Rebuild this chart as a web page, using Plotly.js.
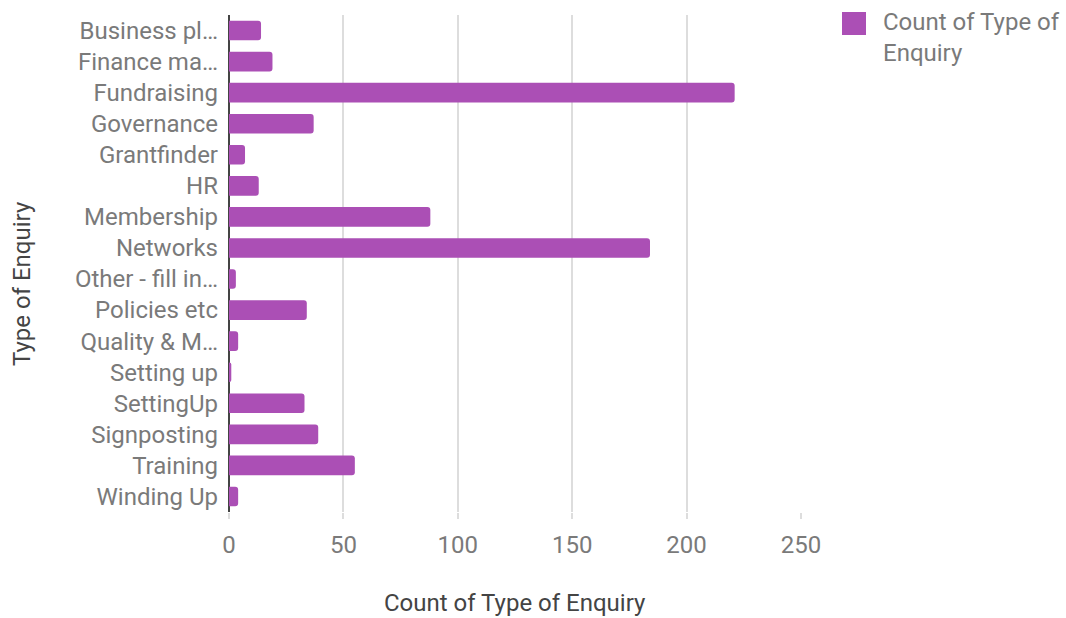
<!DOCTYPE html>
<html>
<head>
<meta charset="utf-8">
<script src="https://cdn.plot.ly/plotly-3.0.1.min.js"></script>
<style>
  html, body { margin: 0; padding: 0; background: #fff; }
  #chart { width: 1066px; height: 618px; }
</style>
</head>
<body>
<div id="chart"></div>
<script>
// Enquiry types, listed top to bottom
const categories = [
  "Business pl…", "Finance ma…", "Fundraising", "Governance", "Grantfinder",
  "HR", "Membership", "Networks", "Other - fill in…", "Policies etc",
  "Quality & M…", "Setting up", "SettingUp", "Signposting", "Training", "Winding Up"
];
// Number of enquiries per type
const counts = [14, 19, 221, 37, 7, 13, 88, 184, 3, 34, 4, 1, 33, 39, 55, 4];
const xTicks = [0, 50, 100, 150, 200, 250];
const seriesNameLines = ["Count of Type of", "Enquiry"];
const xTitle = "Count of Type of Enquiry";
const yTitle = "Type of Enquiry";

const W = 1066, H = 618;
const M = { l: 229, r: 265, t: 15, b: 106 };
const plotW = W - M.l - M.r, plotH = H - M.t - M.b;
// convert page pixels to paper coordinates for titles and the legend key
const px = v => (v - M.l) / plotW;
const py = v => (H - M.b - v) / plotH;

const FAMILY = "Roboto, 'Open Sans', sans-serif";
const labelFont = { family: FAMILY, size: 24, color: "#7a7a7a" };
const titleFont = { family: FAMILY, size: 24, color: "#444444" };
const BAR = "#ab4fb5";

const trace = {
  type: "bar",
  orientation: "h",
  name: seriesNameLines.join(" "),
  x: counts,
  y: categories,
  marker: { color: BAR, cornerradius: 3 },
  hoverinfo: "x+y"
};

const layout = {
  width: W,
  height: H,
  margin: M,
  paper_bgcolor: "#ffffff",
  plot_bgcolor: "#ffffff",
  bargap: 0.37,
  showlegend: false,
  xaxis: {
    range: [0, 250],
    tickvals: xTicks,
    ticktext: xTicks.map(String),
    tickfont: labelFont,
    showgrid: true,
    gridcolor: "#dddddd",
    gridwidth: 2,
    zeroline: true,
    zerolinecolor: "#444444",
    zerolinewidth: 2,
    ticks: "outside",
    ticklen: 6,
    tickwidth: 2,
    tickcolor: "#dddddd",
    ticklabelstandoff: 5,
    showline: false,
    fixedrange: true,
    automargin: false
  },
  yaxis: {
    type: "category",
    autorange: "reversed",
    tickfont: labelFont,
    showgrid: false,
    zeroline: false,
    showline: false,
    ticks: "",
    ticklabelstandoff: 10,
    fixedrange: true,
    automargin: false
  },
  shapes: [
    // legend key swatch
    { type: "rect", xref: "paper", yref: "paper",
      x0: px(842), x1: px(866), y0: py(35), y1: py(12),
      fillcolor: BAR, line: { width: 0 } }
  ],
  annotations: [
    { text: xTitle, xref: "paper", yref: "paper", x: 0.5, y: py(603),
      xanchor: "center", yanchor: "middle", showarrow: false, font: titleFont },
    { text: yTitle, xref: "paper", yref: "paper", x: px(22), y: py(284),
      xanchor: "center", yanchor: "middle", textangle: -90, showarrow: false, font: titleFont },
    // legend text, wrapped over two lines
    { text: seriesNameLines.join("<br>"), xref: "paper", yref: "paper",
      x: px(881), y: py(6), xanchor: "left", yanchor: "top", align: "left",
      showarrow: false, font: labelFont }
  ]
};

Plotly.newPlot("chart", [trace], layout, { displayModeBar: false, staticPlot: true });
</script>
</body>
</html>
